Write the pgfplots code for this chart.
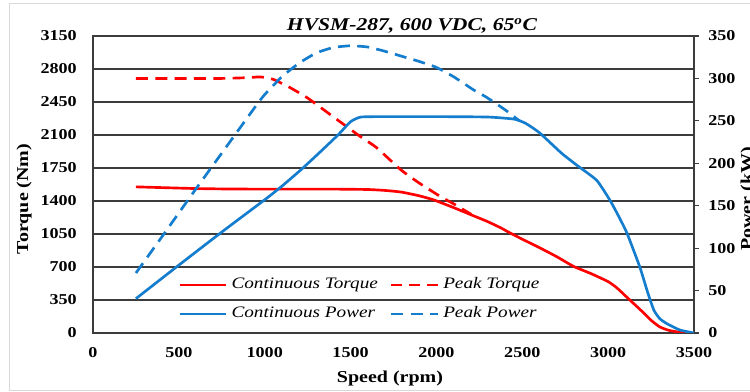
\documentclass[border=0pt]{standalone}
\usepackage{fontspec}
\setmainfont{Liberation Serif}[FakeStretch=1.2]
\usepackage{pgfplots}
\pgfplotsset{compat=1.18}
\definecolor{cred}{RGB}{255,0,0}
\definecolor{cblue}{RGB}{20,125,205}
\definecolor{gridc}{RGB}{60,60,60}
\definecolor{framec}{RGB}{217,217,217}
\begin{document}
\begin{tikzpicture}
\draw[framec, line width=0.75pt] (6.75pt,0.75pt) rectangle (580pt,291pt);
\begin{axis}[
  at={(69.75pt,44.25pt)}, anchor=south west,
  scale only axis, width=450.75pt, height=222.75pt,
  xmin=0, xmax=3500, ymin=0, ymax=3150,
  xtick={0,500,...,3500}, ytick={0,350,...,3150},
  ymajorgrids, grid style={gridc, line width=0.8pt},
  axis line style={gridc, line width=0.8pt},
  major tick length=0pt,
  tick label style={font=\bfseries\fontsize{11.3}{13}\selectfont},
  /pgf/number format/assume math mode=true,
  /pgf/number format/1000 sep={},
  xticklabel style={anchor=north, inner sep=0pt, yshift=-11pt},
  yticklabel style={anchor=east, inner sep=0pt, xshift=-12pt},
]
% Continuous Torque
\addplot[cred, line width=2pt, smooth, tension=0.3] coordinates {
(250,1550) (400,1542) (600,1532) (800,1527) (1000,1526) (1200,1526) (1400,1526)
(1600,1522) (1700,1512) (1794,1495) (1900,1455) (1987,1410) (2100,1330)
(2200,1255) (2300,1180) (2377,1113) (2425,1065) (2500,995) (2600,905)
(2700,810) (2800,705) (2900,630) (3000,545) (3050,480) (3100,395) (3150,310)
(3200,225) (3250,135) (3300,65) (3350,30) (3400,12) (3450,0)};
% Peak Torque
\addplot[cred, line width=2pt, dash pattern=on 9pt off 5.5pt, smooth, tension=0.3] coordinates {
(250,2700) (500,2700) (750,2700) (900,2708) (975,2716) (1050,2690)
(1150,2600) (1250,2492) (1400,2292) (1560,2079) (1650,1968) (1794,1729)
(1900,1590) (2027,1443) (2100,1370) (2203,1258)};
\end{axis}
\begin{axis}[
  at={(69.75pt,44.25pt)}, anchor=south west,
  scale only axis, width=450.75pt, height=222.75pt,
  xmin=0, xmax=3500, ymin=0, ymax=350,
  axis x line=none, axis y line*=right,
  ytick={0,50,...,350},
  tick align=outside, major tick length=3.75pt,
  axis line style={gridc, line width=0.8pt},
  ytick style={gridc, line width=0.8pt},
  tick label style={font=\bfseries\fontsize{11.3}{13}\selectfont},
  /pgf/number format/assume math mode=true,
  yticklabel style={anchor=west, inner sep=0pt, xshift=6.75pt},
  legend columns=2,
  legend style={at={(axis description cs:0.1414,0.1128)}, anchor=west,
    draw=none, fill=none, inner sep=0pt,
    font=\itshape\fontsize{12}{14}\selectfont,
    nodes={inner sep=0pt, text height=8.5pt, text depth=3pt},
    row sep=10.25pt,
    /tikz/every odd column/.append style={column sep=3pt},
    /tikz/every even column/.append style={column sep=9pt}},
  legend cell align=left,
  legend image code/.code={\draw[#1] (0pt,0pt) -- (35pt,0pt);},
]
\addlegendimage{cred, line width=2pt}
\addlegendentry{Continuous Torque}
\addlegendimage{cred, line width=2pt, dash pattern=on 8pt off 5.5pt}
\addlegendentry{Peak Torque}
% Continuous Power
\addplot[cblue, line width=2pt, smooth, tension=0.3] coordinates {
(250,40.5) (500,80) (750,119) (1000,157) (1100,173) (1209,192) (1300,209)
(1425,233) (1500,249) (1560,254.5) (1700,255) (2000,255) (2300,254.5)
(2454,252) (2520,247) (2600,236) (2728,212) (2816,198) (2933,180)
(3009,157) (3060,138) (3109,118) (3184,78) (3230,48) (3266,27) (3300,17)
(3342,11) (3418,3.5) (3500,0)};
\addlegendentry{Continuous Power}
% Peak Power
\addplot[cblue, line width=2pt, dash pattern=on 9pt off 5.5pt, smooth, tension=0.3] coordinates {
(250,70.7) (400,113) (600,170) (800,226) (950,268) (1000,281) (1100,302)
(1200,318) (1300,330) (1400,336.5) (1500,338.5) (1600,337) (1700,332)
(1800,326) (1900,320) (2000,313) (2100,302) (2220,286) (2290,278)
(2400,263) (2483,250)};
\addlegendentry{Peak Power}
\end{axis}
\node[anchor=base, font=\bfseries\itshape\fontsize{13.5}{16}\selectfont] at (309pt,270.75pt) {HVSM-287, 600 VDC, 65\textsuperscript{o}C};
\node[anchor=base, font=\bfseries\fontsize{12.5}{15}\selectfont] at (292.5pt,6.75pt) {Speed (rpm)};
\node[rotate=90, font=\bfseries\fontsize{12.5}{15}\selectfont] at (18pt,144.75pt) {Torque (Nm)};
\node[rotate=90, font=\bfseries\fontsize{12.5}{15}\selectfont] at (561pt,144.75pt) {Power (kW)};
\pgfresetboundingbox
\path[use as bounding box] (0pt,0pt) rectangle (562.5pt,294pt);
\end{tikzpicture}
\end{document}
